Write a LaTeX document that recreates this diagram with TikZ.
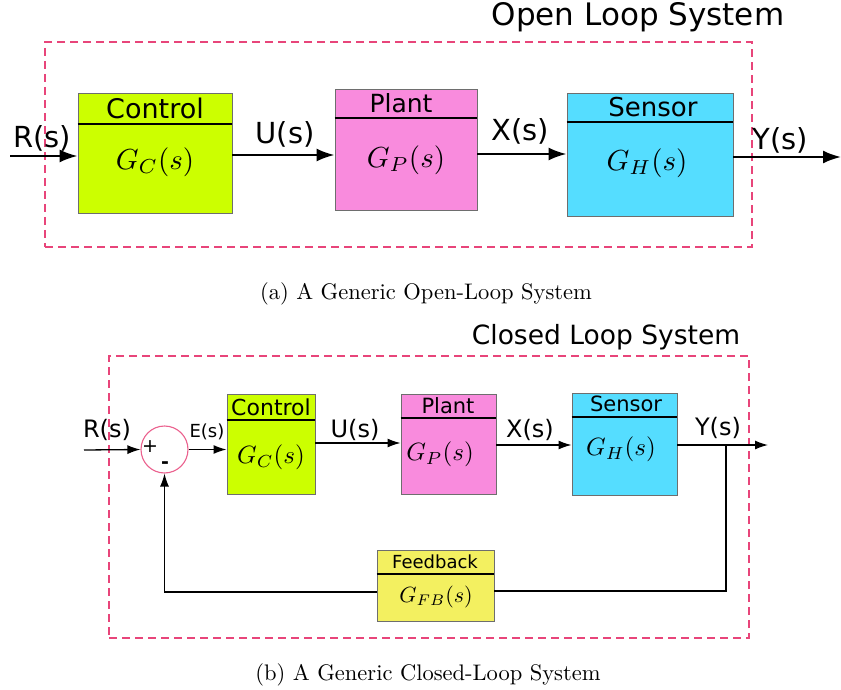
\documentclass[tikz,border=0pt]{standalone}
\usepackage{graphicx}
\usepackage{fontspec}
\setsansfont{DejaVu Sans}
\usetikzlibrary{arrows.meta}
\definecolor{dashpink}{RGB}{232,69,122}
\definecolor{ctrlgreen}{RGB}{204,255,0}
\definecolor{plantpink}{RGB}{249,139,221}
\definecolor{sensorblue}{RGB}{85,221,255}
\definecolor{fbyellow}{RGB}{243,240,96}
\definecolor{boxedge}{RGB}{110,110,110}
\newcommand\myfs[1]{\fontsize{#1}{#1}\selectfont}
\newcommand\mymath[2]{\scalebox{#1}{$#2$}}
\newcommand\mycap[1]{\scalebox{2.25}{\rmfamily\myfs{10}#1}}
\begin{document}
\begin{tikzpicture}[x=1pt,y=-1pt,
  blk/.style={draw=boxedge, line width=0.9pt, inner sep=0pt},
  divline/.style={line width=1.4pt},
  sysbox/.style={draw=dashpink, line width=1.8pt, dash pattern=on 8pt off 5pt},
  bigarrow/.style={line width=2.2pt, -{Latex[length=18pt,width=13pt]}},
  smallarrow/.style={line width=1.3pt, -{Latex[length=13pt,width=9pt]}},
  smallline/.style={line width=1.3pt},
  lbl/.style={inner sep=0pt, font=\sffamily\myfs{#1}},
  mathlbl/.style={inner sep=0pt},
  captext/.style={inner sep=0pt}
]
\useasboundingbox (0,0) rectangle (841,690);

% ---------------- Open loop ----------------
\node[sysbox, minimum width=707, minimum height=205, inner sep=0pt] (obox) at (398.5,144.5) {};
\node[lbl=31] (otitle) at (638,17) {Open Loop System};

\node[blk, fill=ctrlgreen, minimum width=154, minimum height=120] (c1) at (155,153) {};
\draw[divline] (c1.west |- 0,124) -- (c1.east |- 0,124);
\node[lbl=27] (c1t) at (155,108.5) {Control};
\node[mathlbl] (c1m) at (155,162) {\mymath{2.9}{G_C(s)}};

\node[blk, fill=plantpink, minimum width=142, minimum height=121] (p1) at (406,149.5) {};
\draw[divline] (p1.west |- 0,118) -- (p1.east |- 0,118);
\node[lbl=25] (p1t) at (401,103.5) {Plant};
\node[mathlbl] (p1m) at (406,160) {\mymath{2.9}{G_P(s)}};

\node[blk, fill=sensorblue, minimum width=166, minimum height=123] (s1) at (650,154.5) {};
\draw[divline] (s1.west |- 0,122) -- (s1.east |- 0,122);
\node[lbl=26] (s1t) at (653,107.5) {Sensor};
\node[mathlbl] (s1m) at (647,163) {\mymath{2.9}{G_H(s)}};

\coordinate (rin1) at (10,156);
\coordinate (yout1) at (841,157);
\draw[bigarrow] (rin1) -- (c1.west |- rin1);
\draw[bigarrow] (c1.east |- 0,155) -- (p1.west |- 0,155);
\draw[bigarrow] (p1.east |- 0,154) -- (s1.west |- 0,154);
\draw[bigarrow] (s1.east |- yout1) -- (yout1);

\node[lbl=29] (r1l) at (42,138) {R(s)};
\node[lbl=29] (u1l) at (285,134) {U(s)};
\node[lbl=29] (x1l) at (520,131) {X(s)};
\node[lbl=29] (y1l) at (780,140) {Y(s)};

\node[captext] (capa) at (426,294) {\mycap{(a) A Generic Open-Loop System}};

% ---------------- Closed loop ----------------
\node[sysbox, minimum width=640, minimum height=282, inner sep=0pt] (cbox) at (429,497) {};
\node[lbl=26.5] (ctitle) at (606,337) {Closed Loop System};

\node[circle, draw=dashpink!85, line width=1.1pt, fill=white, minimum size=47, inner sep=0pt] (sum) at (164.5,449.5) {};
\node[lbl=19] (plus) at (150,447) {+};
\node[lbl=19, font=\sffamily\bfseries\myfs{19}] (minus) at (165,465) {-};

\node[blk, fill=ctrlgreen, minimum width=88, minimum height=100] (c2) at (271,444) {};
\draw[divline] (c2.west |- 0,420) -- (c2.east |- 0,420);
\node[lbl=22] (c2t) at (271,407) {Control};
\node[mathlbl] (c2m) at (271,457) {\mymath{2.5}{G_C(s)}};

\node[blk, fill=plantpink, minimum width=95, minimum height=100] (p2) at (448.5,444) {};
\draw[divline] (p2.west |- 0,418) -- (p2.east |- 0,418);
\node[lbl=21] (p2t) at (448,406) {Plant};
\node[mathlbl] (p2m) at (440,454) {\mymath{2.5}{G_P(s)}};

\node[blk, fill=sensorblue, minimum width=105, minimum height=102] (s2) at (624.5,444) {};
\draw[divline] (s2.west |- 0,417) -- (s2.east |- 0,417);
\node[lbl=21] (s2t) at (626,404) {Sensor};
\node[mathlbl] (s2m) at (621,449) {\mymath{2.5}{G_H(s)}};

\node[blk, fill=fbyellow, minimum width=117, minimum height=71] (fb) at (435.5,585.5) {};
\draw[divline] (fb.west |- 0,574) -- (fb.east |- 0,574);
\node[lbl=18] (fbt) at (435,562) {Feedback};
\node[mathlbl] (fbm) at (436,597) {\mymath{2.2}{G_{FB}(s)}};

\coordinate (rin2) at (84,450);
\coordinate (yout2) at (768,445);
\coordinate (tap) at (726,445);
\draw[smallarrow] (rin2) -- (sum.west);
\draw[smallarrow] (sum.east) -- (c2.west |- sum.east);
\draw[smallarrow] (c2.east |- 0,443) -- (p2.west |- 0,443);
\draw[smallarrow] (p2.east |- 0,445) -- (s2.west |- 0,445);
\draw[smallarrow] (s2.east |- yout2) -- (yout2);
\draw[smallline] (tap) |- (fb.east |- 0,591);
\draw[smallarrow] (fb.west |- 0,592) -| (sum.south);

\node[lbl=24] (r2l) at (107,430) {R(s)};
\node[lbl=18] (e2l) at (207,432) {E(s)};
\node[lbl=24] (u2l) at (355,430) {U(s)};
\node[lbl=24] (x2l) at (530,430) {X(s)};
\node[lbl=24] (y2l) at (718,428) {Y(s)};

\node[captext] (capb) at (428,675) {\mycap{(b) A Generic Closed-Loop System}};
\end{tikzpicture}
\end{document}
